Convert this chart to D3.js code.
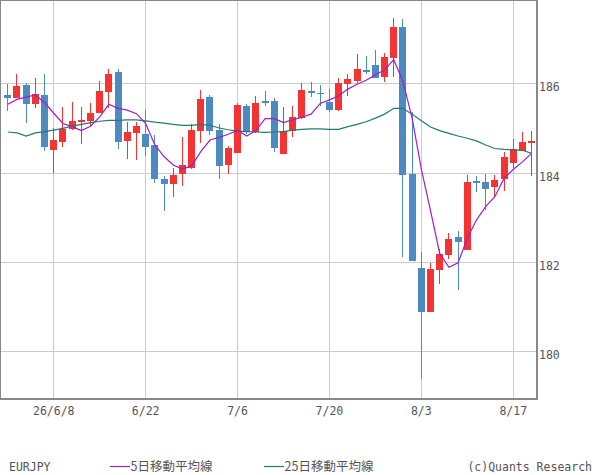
<!DOCTYPE html>
<html><head><meta charset="utf-8">
<script src="https://cdn.jsdelivr.net/npm/d3@7"></script>
<style>
html,body{margin:0;padding:0;background:#fff;}
svg{display:block;}
text{font-family:"DejaVu Sans Mono","Liberation Mono",monospace;fill:#555;}
</style></head>
<body>
<script>
const dates = ["6/1","6/2","6/3","6/4","6/5","6/8","6/9","6/10","6/11","6/12","6/15","6/16","6/17","6/18","6/19","6/22","6/23","6/24","6/25","6/26","6/29","6/30","7/1","7/2","7/3","7/6","7/7","7/8","7/9","7/10","7/13","7/14","7/15","7/16","7/17","7/20","7/21","7/22","7/23","7/24","7/27","7/28","7/29","7/30","7/31","8/3","8/4","8/5","8/6","8/7","8/10","8/11","8/12","8/13","8/14","8/17","8/18","8/19"];
const open  = [185.74,185.68,185.96,185.54,185.74,184.51,184.69,184.97,185.13,185.16,185.34,185.80,186.25,184.71,184.89,184.86,184.62,183.86,183.75,183.98,184.10,184.94,185.70,184.95,184.17,184.45,185.49,184.92,185.60,185.60,184.42,184.93,185.22,185.83,185.79,185.58,185.40,185.99,186.05,186.30,186.41,186.15,186.57,187.26,183.98,181.86,180.88,181.83,182.15,182.56,182.27,183.81,183.79,183.68,183.86,184.22,184.48,184.67];
const high  = [185.98,186.21,186.00,186.13,186.21,184.99,185.47,185.58,185.47,185.57,186.05,186.32,186.32,185.14,185.14,185.40,184.84,183.92,184.10,184.80,185.10,185.85,185.74,185.09,184.60,185.55,185.54,185.72,185.83,185.66,185.47,185.49,186.01,186.03,185.96,185.87,186.13,186.21,186.66,186.61,186.75,186.68,187.46,187.44,185.36,182.23,181.98,182.30,182.65,182.69,183.95,183.92,183.97,183.95,184.47,184.75,184.92,184.93];
const low   = [185.39,185.68,185.12,185.45,184.49,184.00,184.58,184.95,184.64,185.04,185.34,185.45,184.53,184.30,184.28,184.38,183.77,183.15,183.46,183.71,184.09,184.67,184.84,183.86,183.97,184.43,184.86,184.89,185.50,184.47,184.42,184.80,185.21,185.70,185.49,185.36,185.38,185.72,186.00,186.21,186.11,186.04,186.15,182.12,182.03,179.37,180.88,181.50,182.06,181.37,182.27,183.57,183.16,183.46,183.59,184.10,184.48,183.93];
const close = [185.66,185.94,185.54,185.77,184.58,184.73,184.97,185.16,185.18,185.34,185.83,186.21,184.69,184.91,185.04,184.58,183.85,183.75,183.94,184.17,184.95,185.65,184.94,184.15,184.55,185.51,184.92,185.56,185.56,184.56,184.93,185.25,185.85,185.79,185.77,185.40,186.01,186.10,186.32,186.25,186.13,186.59,187.26,183.95,182.03,180.88,181.84,182.18,182.51,182.45,183.79,183.77,183.64,183.83,184.35,184.52,184.68,184.71];
const ma5   = [185.53,185.64,185.69,185.74,185.57,185.33,185.10,185.03,184.94,185.04,185.25,185.53,185.44,185.40,185.32,185.10,184.62,184.36,184.17,184.08,184.15,184.47,184.73,184.79,184.86,184.95,184.82,184.94,185.21,185.21,185.12,185.18,185.24,185.31,185.55,185.63,185.72,185.87,185.98,186.07,186.19,186.30,186.53,186.04,185.22,184.08,183.15,182.19,181.88,181.98,182.53,182.94,183.24,183.46,183.87,184.07,184.24,184.43];
const ma25  = [184.91,184.89,184.82,184.89,184.92,184.95,184.99,185.04,185.08,185.12,185.15,185.17,185.17,185.18,185.18,185.16,185.13,185.11,185.08,185.06,185.06,185.08,185.06,185.00,184.96,184.93,184.92,184.91,184.90,184.91,184.92,184.95,184.97,184.98,184.98,184.97,184.97,185.03,185.08,185.14,185.22,185.31,185.44,185.44,185.31,185.16,185.02,184.94,184.88,184.82,184.77,184.71,184.62,184.54,184.52,184.51,184.50,184.43];
const xTickDates  = ["6/8","6/22","7/6","7/20","8/3","8/17"];
const xTickLabels = ["26/6/8","6/22","7/6","7/20","8/3","8/17"];
const yTicks = [180,182,184,186];
const legendItems = ["5日移動平均線","25日移動平均線"];

const W = 600, H = 475;
const plotL = 0, plotR = 537, plotT = 0, plotB = 399;
const upColor = "#f63333", downColor = "#4d8ac2", ma5Color = "#a020c4", ma25Color = "#237a72";

const svg = d3.select("body").append("svg").attr("width", W).attr("height", H);

const x = d3.scalePoint().domain(dates).range([7.3, 531.1]).padding(0);
const y = d3.scaleLinear().domain([178.93, 187.866]).range([plotB, plotT]);

// grid
const grid = svg.append("g").attr("shape-rendering","crispEdges");
grid.selectAll(".vg").data(xTickDates).join("line")
  .attr("x1", d => Math.round(x(d)) + 0.5).attr("x2", d => Math.round(x(d)) + 0.5)
  .attr("y1", plotT).attr("y2", plotB).attr("stroke", "#cccccc");
grid.selectAll(".hg").data(yTicks).join("line")
  .attr("x1", plotL).attr("x2", plotR)
  .attr("y1", d => Math.round(y(d)) + 0.5).attr("y2", d => Math.round(y(d)) + 0.5).attr("stroke", "#cccccc");

// candles
const idx = d3.range(dates.length);
const bw = 7;
const cg = svg.append("g").attr("shape-rendering","crispEdges");
cg.selectAll(".wick").data(idx).join("line")
  .attr("x1", i => Math.round(x(dates[i])) + 0.5).attr("x2", i => Math.round(x(dates[i])) + 0.5)
  .attr("y1", i => y(high[i])).attr("y2", i => y(low[i]))
  .attr("stroke", i => close[i] >= open[i] ? upColor : downColor).attr("stroke-width", 1.3);
cg.selectAll(".body").data(idx).join("rect")
  .attr("x", i => Math.round(x(dates[i])) - 3)
  .attr("y", i => y(Math.max(open[i], close[i])))
  .attr("width", bw)
  .attr("height", i => Math.max(1.5, Math.abs(y(open[i]) - y(close[i]))))
  .attr("fill", i => close[i] >= open[i] ? upColor : downColor);

// moving averages
const line = arr => d3.line().x((d, i) => x(dates[i]) + 0.5).y(d => y(d))(arr);
svg.append("path").attr("d", line(ma25)).attr("fill","none").attr("stroke", ma25Color).attr("stroke-width", 1.2);
svg.append("path").attr("d", line(ma5)).attr("fill","none").attr("stroke", ma5Color).attr("stroke-width", 1.2);

// frame
svg.append("rect").attr("x", 0.5).attr("y", 0.5).attr("width", plotR - 0.5).attr("height", plotB - 0.5)
  .attr("fill","none").attr("stroke","#888").attr("stroke-width",1.3).attr("shape-rendering","crispEdges");

// y axis
const yAxis = d3.axisRight(y).tickValues(yTicks).tickSize(0).tickPadding(2).tickFormat(d3.format("d"));
const ya = svg.append("g").attr("transform", `translate(${plotR},0)`).call(yAxis);
ya.select(".domain").remove();
ya.selectAll("text").attr("font-size", 11.5).attr("dy", "0.75em").attr("fill","#555")
  .style("font-family","DejaVu Sans Mono, monospace").attr("y", -1);

// x axis
const xAxis = d3.axisBottom(x).tickValues(xTickDates).tickSize(0).tickPadding(8)
  .tickFormat(d => xTickLabels[xTickDates.indexOf(d)]);
const xa = svg.append("g").attr("transform", `translate(0,${plotB})`).call(xAxis);
xa.select(".domain").remove();
xa.selectAll("text").attr("font-size", 11.5).attr("fill","#555").style("font-family","DejaVu Sans Mono, monospace");

// legend
const lg = svg.append("g");
lg.append("text").attr("x", 9).attr("y", 470.5).attr("font-size", 11.5).text("EURJPY");
lg.append("line").attr("x1",110).attr("x2",130).attr("y1",466.5).attr("y2",466.5).attr("stroke",ma5Color).attr("stroke-width",1.2);
lg.append("text").attr("x", 130.5).attr("y", 471).attr("font-size", 12.5).style("font-family","Noto Sans CJK JP").text(legendItems[0]);
lg.append("line").attr("x1",264).attr("x2",284).attr("y1",466.5).attr("y2",466.5).attr("stroke",ma25Color).attr("stroke-width",1.2);
lg.append("text").attr("x", 284.5).attr("y", 471).attr("font-size", 12.5).style("font-family","Noto Sans CJK JP").text(legendItems[1]);
lg.append("text").attr("x", 592).attr("y", 470.5).attr("font-size", 11.5).attr("text-anchor","end").text("(c)Quants Research");
</script>
</body></html>
